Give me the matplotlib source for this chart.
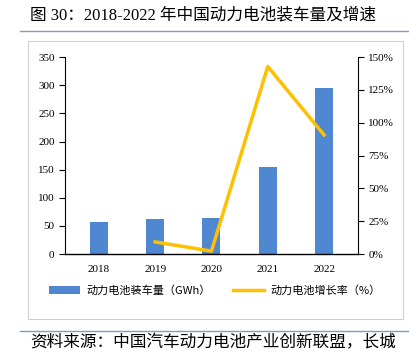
import matplotlib.pyplot as plt
from matplotlib.patches import Rectangle
from matplotlib.lines import Line2D

plt.rcParams['font.family'] = ['Liberation Serif', 'Noto Sans CJK SC', 'DejaVu Sans']

years = ['2018', '2019', '2020', '2021', '2022']
volume = [56.9, 62.2, 63.6, 154.5, 294.6]
growth_years = ['2019', '2020', '2021', '2022']
growth = [9.3, 2.3, 142.8, 90.7]

fig = plt.figure(figsize=(4.09, 3.52), dpi=100)

# title and frame decorations
fig.text(0.073, 0.955, '图 30：2018-2022 年中国动力电池装车量及增速', fontsize=12,
         ha='left', va='center', color='black')
fig.add_artist(Line2D([0.05, 1.0], [0.912, 0.912], color='#7F9DC0', lw=1.0))
fig.add_artist(Rectangle((0.068, 0.094), 0.918, 0.79, fill=False,
                         edgecolor='#D0D0D0', lw=0.8))
fig.add_artist(Line2D([0.05, 1.0], [0.06, 0.06], color='#7F9DC0', lw=1.0))
fig.text(0.073, 0.025, '资料来源：中国汽车动力电池产业创新联盟，长城', fontsize=12,
         family=['Noto Sans CJK SC'], ha='left', va='center')

ax = fig.add_axes([0.159, 0.278, 0.716, 0.56])
x = list(range(len(years)))
bars = ax.bar(x, volume, width=0.32, color='#4F87D1', zorder=2,
              label='动力电池装车量（GWh）')
ax.set_ylim(0, 350)
ax.set_yticks(range(0, 351, 50))
ax.set_xlim(-0.6, 4.6)
ax.set_xticks(x)
ax.set_xticklabels(years)
ax.tick_params(axis='x', length=0, pad=8, labelsize=8)
ax.tick_params(axis='y', direction='out', length=4, labelsize=8, width=0.8)
ax.spines['top'].set_visible(False)
ax.spines['right'].set_visible(False)
ax.spines['left'].set_linewidth(0.8)
ax.spines['bottom'].set_linewidth(1.0)

ax2 = ax.twinx()
gx = [years.index(y) for y in growth_years]
line, = ax2.plot(gx, growth, color='#FFC000', lw=2.5, zorder=3,
                 label='动力电池增长率（%）')
ax2.set_ylim(0, 150)
ax2.set_yticks(range(0, 151, 25))
ax2.set_yticklabels([f'{v}%' for v in range(0, 151, 25)])
ax2.tick_params(axis='y', direction='out', length=4, labelsize=8, width=0.8)
ax2.spines['top'].set_visible(False)
ax2.spines['left'].set_visible(False)
ax2.spines['bottom'].set_visible(False)
ax2.spines['right'].set_linewidth(0.8)

fig.legend([bars, line], ['动力电池装车量（GWh）', '动力电池增长率（%）'],
           loc='center', bbox_to_anchor=(0.525, 0.175), ncol=2, frameon=False,
           prop={'family': ['Noto Sans CJK SC'], 'size': 8},
           handlelength=2.8, columnspacing=2.0, handletextpad=0.6)

fig.savefig('out.png', dpi=100)
